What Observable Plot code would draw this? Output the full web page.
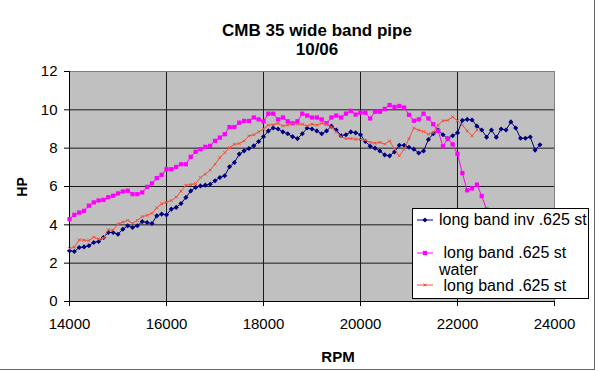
<!DOCTYPE html>
<html>
<head>
<meta charset="utf-8">
<script src="https://cdn.jsdelivr.net/npm/d3@7"></script>
<script src="https://cdn.jsdelivr.net/npm/@observablehq/plot@0.6"></script>
<style>
  html, body { margin: 0; padding: 0; background: white; }
  #wrap { position: relative; width: 600px; height: 371px; overflow: hidden; font-family: "Liberation Sans", Arial, sans-serif; }
  #wrap > svg { position: absolute; left: 0; top: 0; }
</style>
</head>
<body>
<div id="wrap"></div>
<script>
// ---- data ----
const rpm = [
  14000,14100,14200,14300,14400,14500,14600,14700,14800,14900,
  15000,15100,15200,15300,15400,15500,15600,15700,15800,15900,
  16000,16100,16200,16300,16400,16500,16600,16700,16800,16900,
  17000,17100,17200,17300,17400,17500,17600,17700,17800,17900,
  18000,18100,18200,18300,18400,18500,18600,18700,18800,18900,
  19000,19100,19200,19300,19400,19500,19600,19700,19800,19900,
  20000,20100,20200,20300,20400,20500,20600,20700,20800,20900,
  21000,21100,21200,21300,21400,21500,21600,21700,21800,21900,
  22000,22100,22200,22300,22400,22500,22600,22700,22800,22900,
  23000,23100,23200,23300,23400,23500,23600,23700
];
const seriesNames = ["long band inv .625 st", "long band .625 st water", "long band .625 st"];
const invHP = [
  2.65,2.61,2.82,2.85,2.91,3.08,3.13,3.34,3.6,3.6,
  3.51,3.77,3.95,3.86,3.95,4.17,4.12,4.07,4.47,4.56,
  4.52,4.82,4.91,5.11,5.43,5.77,5.95,6.03,6.07,6.12,
  6.3,6.47,6.56,7.03,7.25,7.69,7.86,7.98,8.12,8.35,
  8.6,8.9,9.05,9.0,8.85,8.75,8.6,8.5,8.75,9.05,
  9.0,8.9,8.75,8.9,9.15,8.95,8.65,8.7,8.85,8.8,
  8.7,8.35,8.1,8.0,7.85,7.65,7.6,7.8,8.15,8.15,
  8.05,7.95,7.75,7.85,8.45,8.75,8.95,8.7,8.5,8.65,
  8.8,9.45,9.5,9.47,9.15,8.95,8.57,8.95,8.57,9.0,
  8.95,9.37,9.05,8.52,8.52,8.58,7.9,8.18
];
const waterHP = [
  4.3,4.52,4.64,4.73,5.0,5.17,5.27,5.3,5.44,5.52,
  5.64,5.74,5.78,5.6,5.6,5.69,5.98,6.16,6.44,6.61,
  6.9,6.9,7.02,7.16,7.16,7.55,7.81,7.95,8.07,8.12,
  8.38,8.55,8.73,9.1,9.1,9.33,9.42,9.42,9.6,9.5,
  9.4,9.8,9.8,9.5,9.6,9.4,9.3,9.4,9.8,9.7,
  9.6,9.6,9.5,9.3,9.6,9.7,9.6,9.8,9.95,9.75,
  9.85,9.85,9.55,9.9,9.9,10.05,10.25,10.15,10.2,10.12,
  9.74,9.43,9.5,9.8,9.55,9.25,8.9,8.1,8.5,8.2,
  7.7,6.7,5.8,5.9,6.1,5.5,4.8,4.2
];
const stHP = [
  2.76,2.84,3.22,3.2,3.18,3.35,3.26,3.3,3.74,3.72,
  4.05,4.14,4.23,4.08,4.23,4.43,4.49,4.6,4.89,5.1,
  5.18,5.27,5.44,5.76,6.06,6.1,6.15,6.47,6.64,6.85,
  7.16,7.51,7.77,8.03,8.2,8.24,8.38,8.64,8.7,8.85,
  9.0,9.2,9.22,9.29,9.16,9.2,9.3,9.25,9.25,9.16,
  9.25,9.2,9.3,9.25,9.1,8.85,8.6,8.5,8.5,8.47,
  8.45,8.42,8.3,8.26,8.3,8.21,8.38,7.95,7.6,7.95,
  8.5,9.05,8.94,8.87,8.73,8.82,9.2,9.43,9.45,9.63,
  9.43,9.2,8.9,8.64,8.94
];
const xTicks = [14000,16000,18000,20000,22000,24000];
const yTicks = [0,2,4,6,8,10,12];
const titleLines = ["CMB 35 wide band pipe", "10/06"];
const xLabel = "RPM";
const yLabel = "HP";

const colors = ["#000080", "#ff00ff", "#f0503c"];

const toRows = (vals) => vals.map((v, i) => ({rpm: rpm[i], hp: v}));
const inv = toRows(invHP), water = toRows(waterHP), st = toRows(stHP);

const chart = Plot.plot({
  width: 600, height: 371,
  marginLeft: 69, marginRight: 46, marginTop: 71, marginBottom: 70,
  style: {background: "transparent", fontFamily: "'Liberation Sans', Arial, sans-serif", fontSize: "15px", color: "black"},
  x: {domain: [14000, 24000]},
  y: {domain: [0, 12]},
  marks: [
    Plot.frame({fill: "#c0c0c0", stroke: "none"}),
    Plot.gridY([2,4,6,8,10], {stroke: "#1a1a1a", strokeOpacity: 1}),
    Plot.gridX([16000,18000,20000,22000], {stroke: "#1a1a1a", strokeOpacity: 1}),
    Plot.frame({stroke: "#808080"}),
    Plot.ruleY([0], {stroke: "black"}),
    Plot.ruleX([14000], {stroke: "black"}),
    Plot.axisX(xTicks, {tickSize: 5, tickPadding: 12, tickFormat: d3.format("d"), fontSize: 15, label: null, stroke: "black"}),
    Plot.axisY(yTicks, {tickSize: 5, tickPadding: 7, fontSize: 15, label: null, stroke: "black"}),
    Plot.line(inv, {x: "rpm", y: "hp", stroke: colors[0], strokeWidth: 1}),
    Plot.dot(inv, {x: "rpm", y: "hp", symbol: "diamond2", r: 2.3, fill: colors[0], stroke: "none"}),
    Plot.line(water, {x: "rpm", y: "hp", stroke: colors[1], strokeWidth: 1}),
    Plot.dot(water, {x: "rpm", y: "hp", symbol: "square", r: 2.4, fill: colors[1], stroke: "none"}),
    Plot.line(st, {x: "rpm", y: "hp", stroke: colors[2], strokeWidth: 1}),
    Plot.dot(st, {x: "rpm", y: "hp", symbol: "times", r: 1.4, stroke: colors[2], strokeWidth: 1})
  ]
});
const wrap = document.getElementById("wrap");
wrap.appendChild(chart);

// ---- overlay: titles, axis titles, legend, border ----
const ov = d3.select(wrap).append("svg")
  .attr("width", 600).attr("height", 371)
  .style("font-family", "'Liberation Sans', Arial, sans-serif");

ov.append("text").attr("x", 317).attr("y", 36).attr("text-anchor", "middle")
  .attr("font-size", 17).attr("font-weight", "bold").text(titleLines[0]);
ov.append("text").attr("x", 317).attr("y", 55).attr("text-anchor", "middle")
  .attr("font-size", 17).attr("font-weight", "bold").text(titleLines[1]);
ov.append("text").attr("x", 338).attr("y", 362).attr("text-anchor", "middle")
  .attr("font-size", 15).attr("font-weight", "bold").text(xLabel);
ov.append("text").attr("transform", "translate(27,187) rotate(-90)").attr("text-anchor", "middle")
  .attr("font-size", 14).attr("font-weight", "bold").text(yLabel);

// legend
ov.append("rect").attr("x", 412.5).attr("y", 208.5).attr("width", 176).attr("height", 90)
  .attr("fill", "white").attr("stroke", "black");
const rowsY = [220, 253, 285];
const syms = [d3.symbolDiamond2, d3.symbolSquare, d3.symbolTimes];
const symSize = [Math.PI*2.3*2.3, Math.PI*2.4*2.4, Math.PI*1.4*1.4];
rowsY.forEach((y, i) => {
  ov.append("line").attr("x1", 417).attr("x2", 433).attr("y1", y).attr("y2", y)
    .attr("stroke", colors[i]).attr("stroke-width", 1);
  const p = ov.append("path").attr("d", d3.symbol(syms[i], symSize[i])())
    .attr("transform", `translate(425,${y})`);
  if (i === 2) p.attr("fill", "none").attr("stroke", colors[i]);
  else p.attr("fill", colors[i]);
});
ov.append("text").attr("x", 439).attr("y", 225).attr("font-size", 16).text(seriesNames[0]);
ov.append("text").attr("x", 443.5).attr("y", 258).attr("font-size", 16).text(seriesNames[1].replace(" water", ""));
ov.append("text").attr("x", 439).attr("y", 274.5).attr("font-size", 16).text("water");
ov.append("text").attr("x", 443.5).attr("y", 291).attr("font-size", 16).text(seriesNames[2]);

// outer chart-area border (right and bottom)
ov.append("line").attr("x1", 594.5).attr("x2", 594.5).attr("y1", 0).attr("y2", 370).attr("stroke", "#666");
ov.append("line").attr("x1", 0).attr("x2", 595).attr("y1", 369.5).attr("y2", 369.5).attr("stroke", "#666");
</script>
</body>
</html>
